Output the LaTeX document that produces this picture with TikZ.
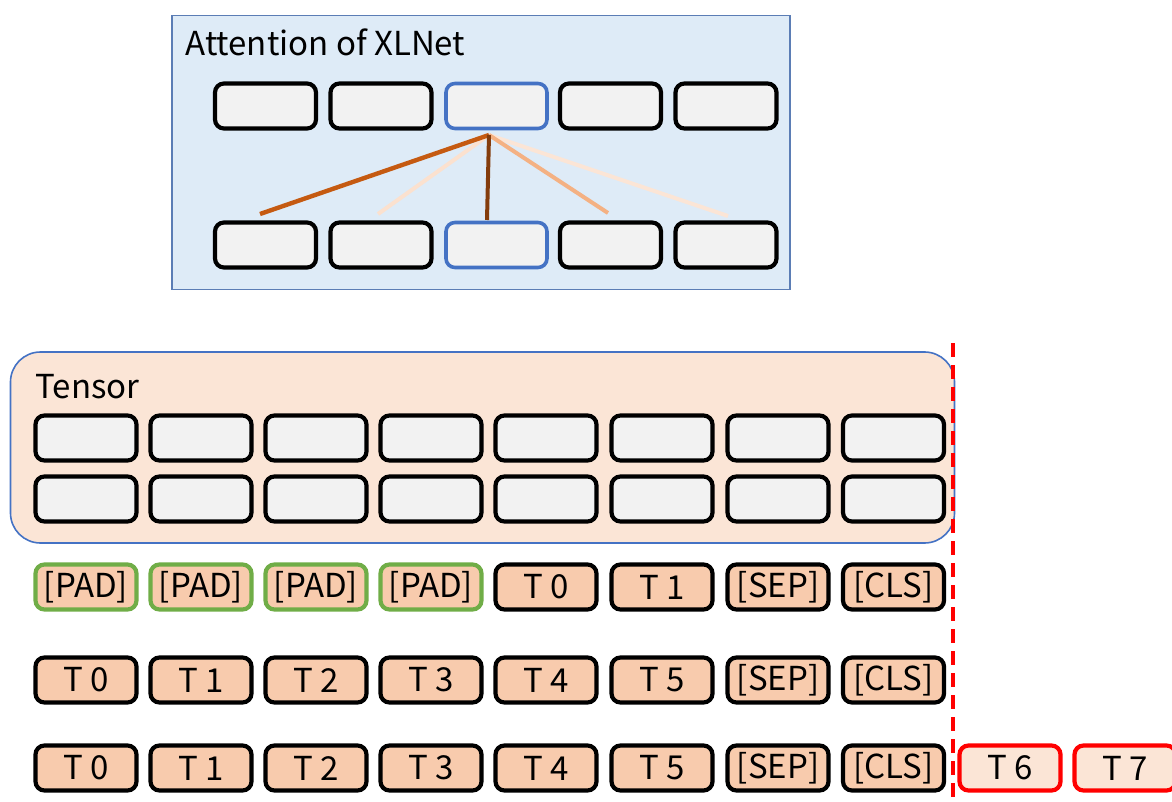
\documentclass[tikz,border=0pt]{standalone}
\usepackage{fontspec}
\setmainfont{Noto Sans CJK JP}
\definecolor{attnfill}{HTML}{DEEBF7}
\definecolor{attnedge}{HTML}{5B7DB5}
\definecolor{cellgray}{HTML}{F2F2F2}
\definecolor{selblue}{HTML}{4472C4}
\definecolor{peach}{HTML}{F8CBAD}
\definecolor{paleorange}{HTML}{FBE5D6}
\definecolor{padgreen}{HTML}{70AD47}
\definecolor{wA}{HTML}{C55A11}
\definecolor{wB}{HTML}{FBE1CF}
\definecolor{wC}{HTML}{843C0C}
\definecolor{wD}{HTML}{F4B183}
\definecolor{wE}{HTML}{FBE5D6}
\tikzset{
  cell/.style={draw=black, line width=2.1pt, fill=cellgray, rounded corners=4.5pt,
    minimum width=50.5pt, minimum height=22.5pt, inner sep=0pt},
  selcell/.style={cell, draw=selblue, line width=1.8pt},
  tok/.style={cell, fill=peach, font=\fontsize{16.5}{18}\selectfont},
  padtok/.style={tok, draw=padgreen},
  newtok/.style={tok, draw=red, fill=paleorange},
  weight/.style={line width=2pt},
  lbl/.style={anchor=west, inner sep=0pt, font=\fontsize{16.5}{18}\selectfont}
}
\begin{document}
\begin{tikzpicture}[x=0.5pt, y=-0.5pt]
\useasboundingbox (0,0) rectangle (1172,802);

% ---- attention panel ----
\node[draw=attnedge, line width=0.8pt, fill=attnfill, minimum width=309pt, minimum height=137pt,
  inner sep=0pt] (attn) at (481,152.5) {};
\node[lbl] (attntitle) at (185,42) {Attention of XLNet};

\foreach \i/\x in {1/265.5,2/381,4/610.5,5/726}{
  \node[cell] (t\i) at (\x,106) {};
  \node[cell] (b\i) at (\x,245) {};
}
\node[selcell] (t3) at (496.5,106) {};
\node[selcell] (b3) at (496.5,245) {};

% attention weights from the query token
\coordinate (src) at (489,135);
\coordinate (e1) at (260,214);
\coordinate (e2) at (378,214);
\coordinate (e3) at (487,220);
\coordinate (e4) at (608,213);
\coordinate (e5) at (728,216);
\draw[weight, draw=wB] (src) -- (e2);
\draw[weight, draw=wE] (src) -- (e5);
\draw[weight, draw=wD] (src) -- (e4);
\draw[weight, draw=wA, line width=2.2pt] (src) -- (e1);
\draw[weight, draw=wC] (src) -- (e3);

% ---- tensor panel ----
\node[draw=selblue, line width=0.8pt, fill=paleorange, rounded corners=15pt,
  minimum width=472pt, minimum height=95.5pt, inner sep=0pt] (tensor) at (482.5,447.5) {};
\node[lbl] (tensortitle) at (35,387) {Tensor};

\foreach \i/\x in {1/86,2/201,3/316,4/431,5/546,6/662,7/778,8/893.5}{
  \node[cell] (r\i) at (\x,438) {};
  \node[cell] (s\i) at (\x,499) {};
}

% ---- token rows ----
\foreach \i/\x in {1/86,2/201,3/316,4/431}{
  \node[padtok] (p\i) at (\x,587) {[PAD]};
}
\node[tok] (p5) at (546,587) {T 0};
\node[tok] (p6) at (662,587) {T 1};
\node[tok] (p7) at (778,587) {[SEP]};
\node[tok] (p8) at (893.5,587) {[CLS]};

\foreach \i/\x/\t in {1/86/T 0,2/201/T 1,3/316/T 2,4/431/T 3,5/546/T 4,6/662/T 5,7/778/[SEP],8/893.5/[CLS]}{
  \node[tok] (q\i) at (\x,680) {\t};
  \node[tok] (u\i) at (\x,768) {\t};
}
\node[newtok] (u9) at (1010,768) {T 6};
\node[newtok] (u10) at (1125,768) {T 7};

% ---- cut-off marker ----
\coordinate (cuttop) at (953,343);
\coordinate (cutbot) at (953,802);
\draw[red, line width=2pt, dash pattern=on 7pt off 4pt] (cuttop) -- (cutbot);
\end{tikzpicture}
\end{document}
